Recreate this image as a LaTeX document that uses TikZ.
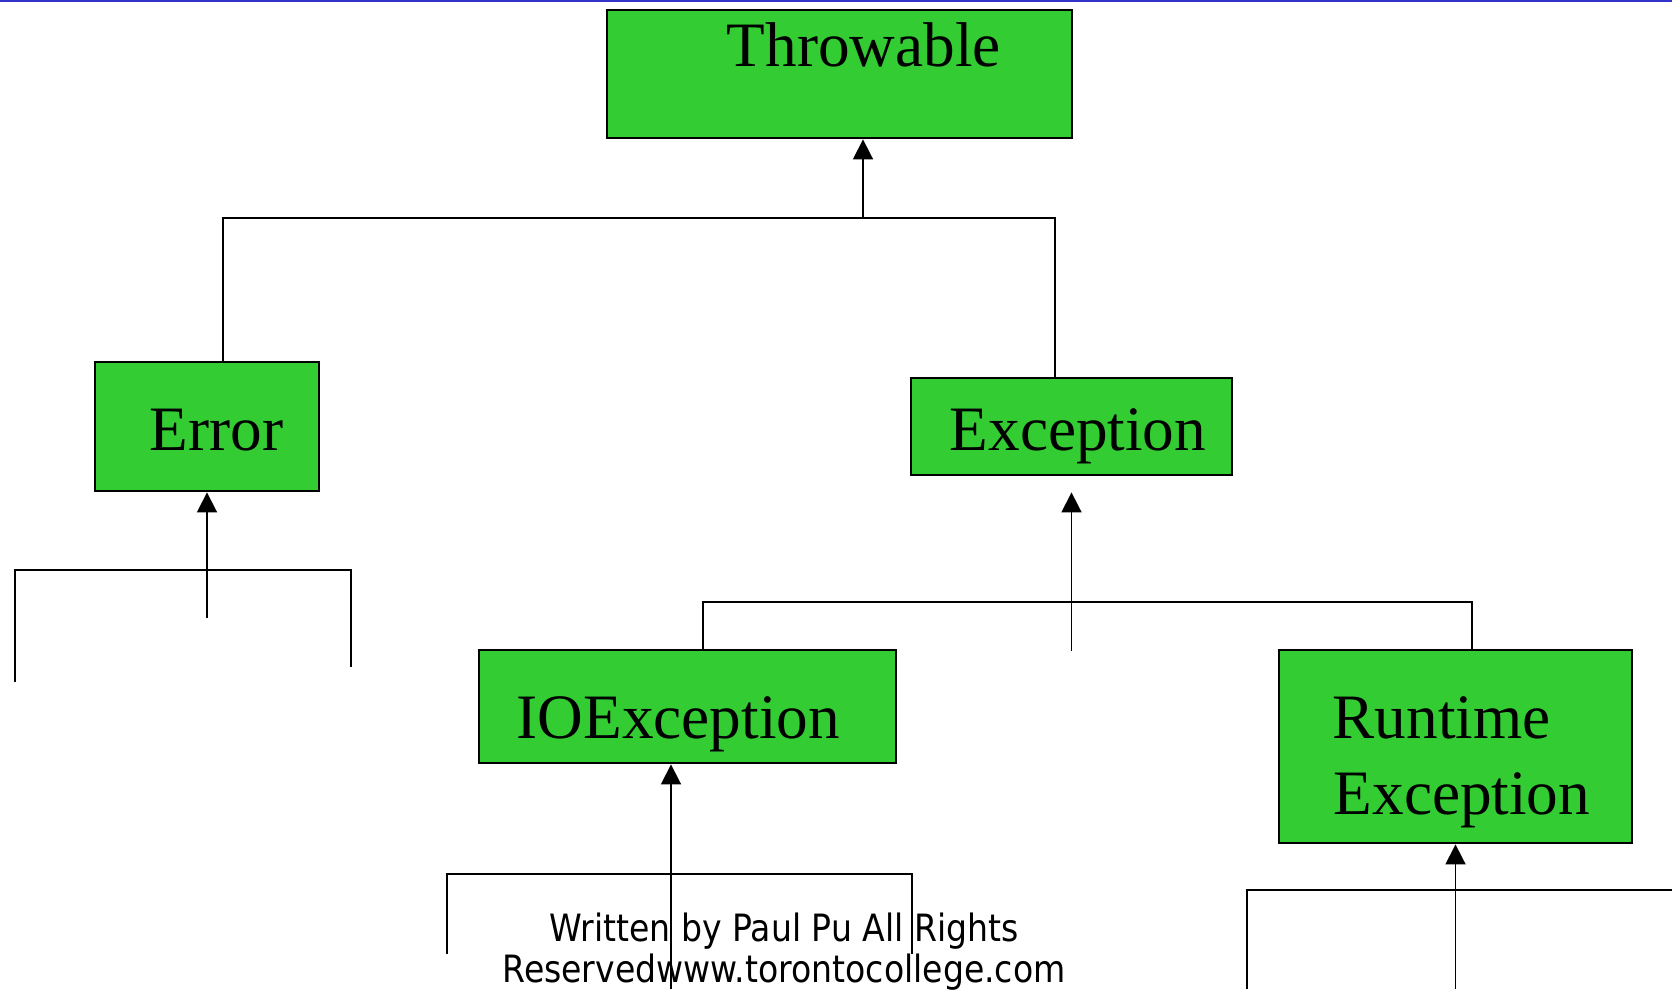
\documentclass[tikz,border=0pt]{standalone}
\usepackage{fontspec}
\setmainfont{Liberation Serif}
\newfontfamily\notefont[FakeStretch=0.88]{DejaVu Sans}
\usepackage{xcolor}
\usepackage{tikz}
\usetikzlibrary{calc,arrows.meta}
\definecolor{boxgreen}{HTML}{33CC33}
\definecolor{rule}{HTML}{3333CC}
\definecolor{ink}{HTML}{000000}
\tikzset{
  box/.style={draw=ink, fill=boxgreen, line width=0.8pt, inner sep=0pt},
  line/.style={draw=ink, line width=0.5pt},
  arr/.style={draw=ink, line width=0.5pt, -{Triangle[width=2mm,length=2mm]}},
  lab/.style={text=ink, font=\fontsize{18}{21.6}\selectfont, inner sep=0pt, anchor=base west},
  note/.style={text=ink, font=\notefont\fontsize{10.7}{11.1}\selectfont, inner sep=0pt, anchor=base},
}
\begin{document}
\begin{tikzpicture}
  \useasboundingbox (0,0) rectangle (16.72,-9.89);
  \draw[rule, line width=0.02cm] (0,-0.01) -- (16.72,-0.01);

  % boxes
  \node[box, minimum width=4.65cm, minimum height=1.28cm] (thr) at (8.395,-0.74) {};
  \node[box, minimum width=2.24cm, minimum height=1.29cm] (err) at (2.07,-4.265) {};
  \node[box, minimum width=3.21cm, minimum height=0.97cm] (exc) at (10.715,-4.265) {};
  \node[box, minimum width=4.17cm, minimum height=1.13cm] (io) at (6.875,-7.065) {};
  \node[box, minimum width=3.53cm, minimum height=1.93cm] (rt) at (14.555,-7.465) {};

  \node[lab] (thrT) at (7.26,-0.66) {Throwable};
  \node[lab] (errT) at (1.49,-4.50) {Error};
  \node[lab] (excT) at (9.49,-4.50) {Exception};
  \node[lab] (ioT) at (5.16,-7.38) {IOException};
  \node[lab] (rtT) at (13.32,-7.38) {Runtime};
  \node[lab] (rtT2) at (13.33,-8.14) {Exception};

  % Throwable
  \coordinate (t0) at (8.63,-2.18);
  \coordinate (t1) at (2.23,-2.18);
  \coordinate (t2) at (10.55,-2.18);
  \draw[arr] (t0) -- (t0 |- thr.south);
  \draw[line] (t1 |- err.north) -- (t1) -- (t2) -- (t2 |- exc.north);

  % Error
  \coordinate (e0) at (2.07,-6.18);
  \coordinate (e1) at (0.15,-5.70);
  \coordinate (e2) at (3.51,-5.70);
  \draw[arr] (e0) -- (err.south);
  \draw[line] (0.15,-6.82) -- (e1) -- (e2) -- (3.51,-6.67);

  % Exception
  \coordinate (x0) at (10.715,-6.51);
  \coordinate (x1) at (7.03,-6.02);
  \coordinate (x2) at (14.72,-6.02);
  \draw[arr] (x0) -- ($(exc.south)+(0,-0.16)$);
  \draw[line] (x1 |- io.north) -- (x1) -- (x2) -- (x2 |- rt.north);

  % IOException
  \coordinate (i0) at (6.71,-9.89);
  \coordinate (i1) at (4.47,-8.74);
  \coordinate (i2) at (9.12,-8.74);
  \draw[arr] (i0) -- (i0 |- io.south);
  \draw[line] (4.47,-9.54) -- (i1) -- (i2) -- (9.12,-9.54);

  % RuntimeException
  \coordinate (r0) at (14.555,-9.89);
  \coordinate (r1) at (12.47,-8.90);
  \coordinate (r2) at (16.72,-8.90);
  \draw[arr] (r0) -- (rt.south);
  \draw[line] (12.47,-9.89) -- (r1) -- (r2);

  \node[note] (foot1) at (7.84,-9.41) {Written by Paul Pu All Rights};
  \node[note] (foot2) at (7.84,-9.82) {Reservedwww.torontocollege.com};
\end{tikzpicture}
\end{document}
